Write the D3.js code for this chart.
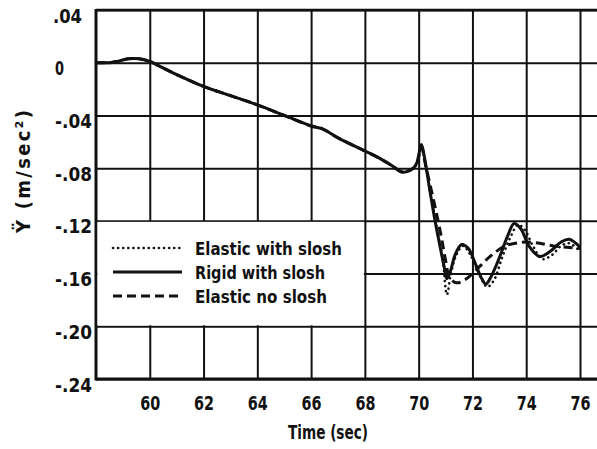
<!DOCTYPE html>
<html><head><meta charset="utf-8">
<script src="https://cdn.jsdelivr.net/npm/d3@7"></script>
<style>body{margin:0;background:#fff} svg{display:block}</style>
</head><body><svg id="c" width="597" height="449"></svg>
<script>
// ---- data ----
const xTicks = [60, 62, 64, 66, 68, 70, 72, 74, 76];
const yTicks = [0.04, 0, -0.04, -0.08, -0.12, -0.16, -0.20, -0.24];
const yTickLabels = [".04", "0", "-.04", "-.08", "-.12", "-.16", "-.20", "-.24"];
const seriesNames = ["Elastic with slosh", "Rigid with slosh", "Elastic no slosh"];

// common part of all three responses (s, m/sec^2)
const commonTime  = [58, 58.5, 58.8, 59.2, 59.6, 60.0, 60.3, 61, 62, 63, 64, 65, 66, 66.4, 67, 68, 68.5, 69, 69.4, 69.8];
const commonValue = [0, 0, 0.001, 0.003, 0.003, 0.001, -0.002, -0.009, -0.018, -0.025, -0.032, -0.040, -0.048, -0.050, -0.057, -0.067, -0.072, -0.078, -0.083, -0.080];

// Elastic with slosh (dotted)
const elasticSloshTime  = [69.93, 70.1, 70.25, 70.45, 70.7, 70.9, 71.05, 71.2, 71.4, 71.65, 71.9, 72.2, 72.55, 72.8, 73.1, 73.4, 73.7, 73.95, 74.25, 74.6, 74.95, 75.3, 75.6, 76];
const elasticSloshValue = [-0.077, -0.063, -0.078, -0.100, -0.128, -0.150, -0.176, -0.160, -0.146, -0.139, -0.145, -0.158, -0.170, -0.165, -0.148, -0.133, -0.123, -0.127, -0.139, -0.149, -0.146, -0.139, -0.137, -0.143];

// Rigid with slosh (solid)
const rigidSloshTime  = [69.93, 70.1, 70.2, 70.4, 70.6, 70.8, 70.95, 71.05, 71.2, 71.35, 71.6, 71.85, 72.1, 72.35, 72.5, 72.7, 73.0, 73.3, 73.55, 73.8, 74.1, 74.5, 74.9, 75.3, 75.6, 76];
const rigidSloshValue = [-0.076, -0.062, -0.070, -0.095, -0.119, -0.140, -0.155, -0.164, -0.157, -0.146, -0.138, -0.141, -0.152, -0.164, -0.168, -0.162, -0.148, -0.132, -0.122, -0.126, -0.139, -0.147, -0.143, -0.136, -0.134, -0.140];

// Elastic no slosh (dashed)
const elasticNoSloshTime  = [69.93, 70.1, 70.25, 70.45, 70.65, 70.85, 71.0, 71.15, 71.4, 71.7, 72.0, 72.3, 72.6, 72.9, 73.2, 73.6, 74.0, 74.5, 75.0, 75.5, 76];
const elasticNoSloshValue = [-0.077, -0.064, -0.077, -0.095, -0.113, -0.133, -0.150, -0.163, -0.167, -0.165, -0.160, -0.154, -0.148, -0.143, -0.139, -0.137, -0.136, -0.137, -0.139, -0.140, -0.141];

// ---- drawing ----
const FONT = "'DejaVu Sans Condensed','DejaVu Sans',sans-serif";
const INK = "#111";
const svg = d3.select("#c");
const x = d3.scaleLinear().domain([58, 76]).range([96, 580]);
const y = d3.scaleLinear().domain([0.04, -0.24]).range([10, 379]);
const xEnd = 600;

function zip(t, v) { return t.map((d, i) => [d, v[i]]); }
function txt(sel, size) {
  return sel.attr("fill", INK).style("font-family", FONT).style("font-weight", "bold").style("font-size", size + "px");
}
const common = zip(commonTime, commonValue);
const series = [
  { name: seriesNames[0], pts: common.concat(zip(elasticSloshTime, elasticSloshValue)), dash: "0.1,5", w: 2.6, cap: "round", tw: 147 },
  { name: seriesNames[1], pts: common.concat(zip(rigidSloshTime, rigidSloshValue)), dash: null, w: 3, cap: "butt", tw: 130 },
  { name: seriesNames[2], pts: common.concat(zip(elasticNoSloshTime, elasticNoSloshValue)), dash: "9,5", w: 3, cap: "butt", tw: 132 }
];

// grid - vertical
const gx = svg.append("g").attr("transform", `translate(0,${y(-0.24)})`)
  .call(d3.axisBottom(x).tickValues(xTicks).tickSize(-(y(-0.24) - y(0.04))).tickFormat(""));
gx.select(".domain").remove();
gx.selectAll("line").attr("stroke", INK).attr("stroke-width", 2);

// grid - horizontal
const gy = svg.append("g").attr("transform", `translate(${x(58)},0)`)
  .call(d3.axisLeft(y).tickValues(yTicks).tickSize(-(xEnd - x(58))).tickFormat(""));
gy.select(".domain").remove();
gy.selectAll("line").attr("stroke", INK).attr("stroke-width", 2);

// frame
svg.append("line").attr("x1", x(58)).attr("x2", x(58)).attr("y1", y(0.04) - 1).attr("y2", y(-0.24) + 1.5)
  .attr("stroke", INK).attr("stroke-width", 3);
svg.append("line").attr("x1", x(58)).attr("x2", xEnd).attr("y1", y(-0.24)).attr("y2", y(-0.24))
  .attr("stroke", INK).attr("stroke-width", 3);
svg.append("line").attr("x1", x(58)).attr("x2", xEnd).attr("y1", y(0.04)).attr("y2", y(0.04))
  .attr("stroke", INK).attr("stroke-width", 2.5);

// x tick labels
const xl = svg.append("g").attr("transform", `translate(0,${y(-0.24)})`)
  .call(d3.axisBottom(x).tickValues(xTicks).tickSize(0).tickFormat(d3.format("d")));
xl.select(".domain").remove();
txt(xl.selectAll("text").attr("y", 31).attr("dy", 0), 20)
  .attr("textLength", 20).attr("lengthAdjust", "spacingAndGlyphs");

// y tick labels (left aligned as in the original)
const yl = svg.append("g").attr("transform", `translate(${x(58)},0)`)
  .call(d3.axisLeft(y).tickValues(yTicks).tickSize(0).tickFormat((d, i) => yTickLabels[i]));
yl.select(".domain").remove();
txt(yl.selectAll("text").attr("dy", 12).attr("text-anchor", "start"), 20)
  .attr("textLength", (d, i) => yTickLabels[i].length === 1 ? 9 : yTickLabels[i].length === 3 ? 29 : 37)
  .attr("lengthAdjust", "spacingAndGlyphs")
  .attr("x", (d, i) => (i === 0 ? 53 : 55) - x(58));

// axis titles
txt(svg.append("text").attr("x", 288).attr("y", 439), 19)
  .attr("textLength", 80).attr("lengthAdjust", "spacingAndGlyphs").text("Time (sec)");
txt(svg.append("text").attr("transform", "translate(30,233) rotate(-90)"), 20)
  .attr("textLength", 123).attr("lengthAdjust", "spacing").text("Ÿ (m/sec²)");

// curves
const line = d3.line().x(d => x(d[0])).y(d => y(d[1])).curve(d3.curveCatmullRom.alpha(0.5));
series.forEach(s => {
  svg.append("path").datum(s.pts).attr("d", line).attr("fill", "none").attr("stroke", INK)
    .attr("stroke-width", s.w).attr("stroke-dasharray", s.dash).attr("stroke-linecap", s.cap)
    .attr("stroke-linejoin", "round");
});

// legend (white box occupying grid cells)
svg.append("rect").attr("x", x(58) + 1.5).attr("y", y(-0.12) + 1).attr("width", x(68) - x(58) - 2.5)
  .attr("height", y(-0.20) - y(-0.12) - 2).attr("fill", "#fff");
const legY = [248, 272, 296];
series.forEach((s, i) => {
  svg.append("line").attr("x1", 113).attr("x2", 182).attr("y1", legY[i]).attr("y2", legY[i])
    .attr("stroke", INK).attr("stroke-width", s.w).attr("stroke-dasharray", s.dash).attr("stroke-linecap", s.cap);
  txt(svg.append("text").attr("x", 195).attr("y", legY[i] + 7), 18.5)
    .attr("textLength", s.tw).attr("lengthAdjust", "spacingAndGlyphs").text(s.name);
});
</script></body></html>
